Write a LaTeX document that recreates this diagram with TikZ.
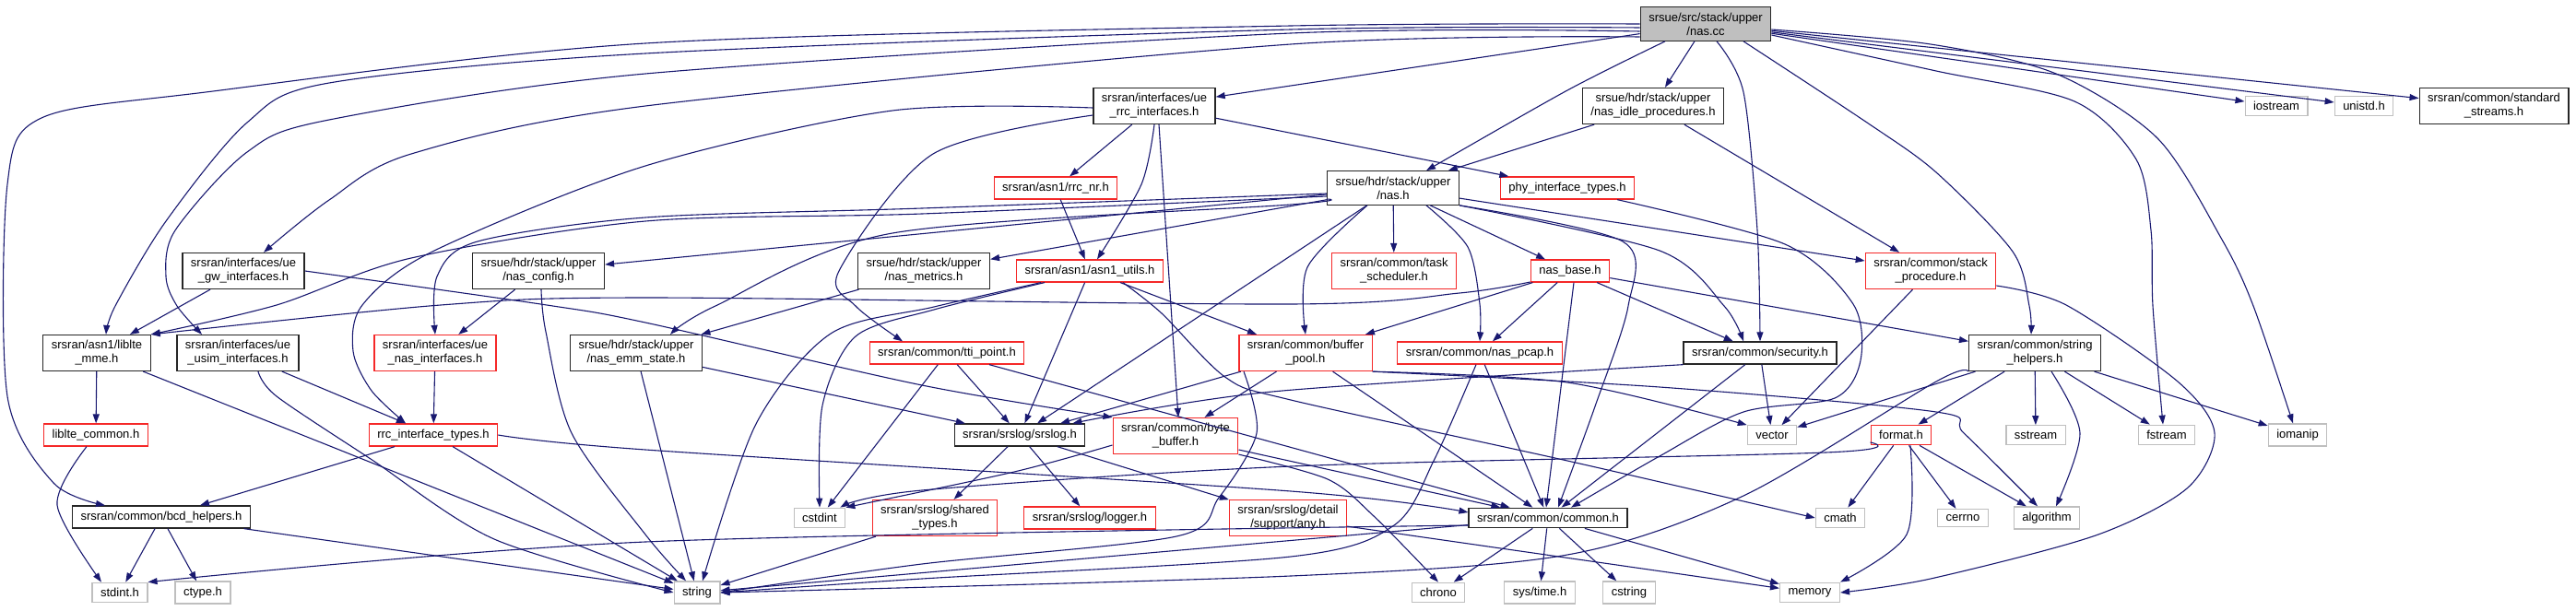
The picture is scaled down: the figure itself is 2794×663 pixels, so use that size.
\documentclass[tikz,border=0pt]{standalone}
\usepackage{fontspec}
\setmainfont{Liberation Sans}
\usepackage{tikz}
\usetikzlibrary{arrows.meta}
\definecolor{depblue}{RGB}{25,25,112}
\definecolor{truncred}{RGB}{245,40,40}
\definecolor{sysgray}{RGB}{191,191,191}

\begin{document}
\begin{tikzpicture}[x=1pt,y=-1pt,
  box/.style={draw,line width=1.2pt,align=center,inner xsep=9pt,inner ysep=6pt,font=\fontsize{13}{15}\selectfont},
  hdr/.style={box,draw=black!85},
  trunc/.style={box,draw=truncred},
  sys/.style={box,draw=sysgray},
  rootbox/.style={hdr,fill=sysgray},
  dep/.style={draw=depblue,line width=1.1pt,-{Triangle[length=10pt,width=7pt]}}]
\useasboundingbox (0,0) rectangle (2794,663);

\node[rootbox] (root) at (1850,26) {srsue/src/stack/upper\\/nas.cc};
\node[hdr] (uerrc) at (1252,115) {srsran/interfaces/ue\\\_rrc\_interfaces.h};
\node[hdr] (nasidle) at (1793,115) {srsue/hdr/stack/upper\\/nas\_idle\_procedures.h};
\node[sys] (iostream) at (2469,115) {iostream};
\node[sys] (unistd) at (2564,115) {unistd.h};
\node[hdr] (stdstreams) at (2705,115) {srsran/common/standard\\\_streams.h};
\node[trunc] (rrcnr) at (1145,204) {srsran/asn1/rrc\_nr.h};
\node[hdr] (nash) at (1511,204) {srsue/hdr/stack/upper\\/nas.h};
\node[trunc] (phytypes) at (1700,204) {phy\_interface\_types.h};
\node[hdr] (uegw) at (264,294) {srsran/interfaces/ue\\\_gw\_interfaces.h};
\node[hdr] (nasconfig) at (584,294) {srsue/hdr/stack/upper\\/nas\_config.h};
\node[hdr] (nasmetrics) at (1002,294) {srsue/hdr/stack/upper\\/nas\_metrics.h};
\node[trunc] (asnutils) at (1182,294) {srsran/asn1/asn1\_utils.h};
\node[trunc] (tasksched) at (1512,294) {srsran/common/task\\\_scheduler.h};
\node[trunc] (nasbase) at (1703,294) {nas\_base.h};
\node[trunc] (stackproc) at (2094,294) {srsran/common/stack\\\_procedure.h};
\node[hdr] (lteme) at (105,383) {srsran/asn1/liblte\\\_mme.h};
\node[hdr] (ueusim) at (258,383) {srsran/interfaces/ue\\\_usim\_interfaces.h};
\node[trunc] (uenas) at (472,383) {srsran/interfaces/ue\\\_nas\_interfaces.h};
\node[hdr] (emmstate) at (690,383) {srsue/hdr/stack/upper\\/nas\_emm\_state.h};
\node[trunc] (ttipoint) at (1027,383) {srsran/common/tti\_point.h};
\node[trunc] (bufpool) at (1416,383) {srsran/common/buffer\\\_pool.h};
\node[trunc] (naspcap) at (1605,383) {srsran/common/nas\_pcap.h};
\node[hdr] (security) at (1909,383) {srsran/common/security.h};
\node[hdr] (strhelp) at (2207,383) {srsran/common/string\\\_helpers.h};
\node[trunc] (ltecommon) at (104,472) {liblte\_common.h};
\node[trunc] (rrctypes) at (470,472) {rrc\_interface\_types.h};
\node[hdr] (srslog) at (1106,472) {srsran/srslog/srslog.h};
\node[trunc] (bytebuf) at (1275,473) {srsran/common/byte\\\_buffer.h};
\node[sys] (vector) at (1922,472) {vector};
\node[trunc] (format) at (2062,472) {format.h};
\node[sys] (sstream) at (2208,472) {sstream};
\node[sys] (fstream) at (2350,472) {fstream};
\node[sys] (iomanip) at (2492,472) {iomanip};
\node[hdr] (bcd) at (175,561) {srsran/common/bcd\_helpers.h};
\node[sys] (cstdint) at (889,562) {cstdint};
\node[trunc] (shtypes) at (1014,562) {srsran/srslog/shared\\\_types.h};
\node[trunc] (logger) at (1182,562) {srsran/srslog/logger.h};
\node[trunc] (anyh) at (1397,562) {srsran/srslog/detail\\/support/any.h};
\node[hdr] (common) at (1679,562) {srsran/common/common.h};
\node[sys] (cmath) at (1996,562) {cmath};
\node[sys] (cerrno) at (2129,562) {cerrno};
\node[sys] (algorithm) at (2220,562) {algorithm};
\node[sys] (stdint) at (130,643) {stdint.h};
\node[sys] (ctype) at (220,643) {ctype.h};
\node[sys] (string) at (756,643) {string};
\node[sys] (chrono) at (1560,643) {chrono};
\node[sys] (systime) at (1670,643) {sys/time.h};
\node[sys] (cstring) at (1767,643) {cstring};
\node[sys] (memory) at (1963,643) {memory};

\foreach \src/\dst in {root/uerrc, root/nasidle, root/iostream, root/unistd, root/stdstreams,
  nasidle/nash, nasidle/stackproc, uerrc/rrcnr, uerrc/phytypes, rrcnr/asnutils,
  nash/nasconfig, nash/nasmetrics, nash/srslog, nash/tasksched, nash/nasbase, nash/stackproc,
  uegw/lteme, nasconfig/uenas, nasmetrics/emmstate, asnutils/srslog, asnutils/bufpool,
  nasbase/bufpool, nasbase/naspcap, nasbase/security, nasbase/strhelp, stackproc/vector,
  lteme/ltecommon, lteme/string, ueusim/rrctypes, uenas/rrctypes, emmstate/string, emmstate/srslog,
  ttipoint/srslog, ttipoint/cstdint, ttipoint/common, bufpool/srslog, bufpool/bytebuf, bufpool/common,
  naspcap/common, security/vector, security/common,
  strhelp/format, strhelp/sstream, strhelp/fstream, strhelp/iomanip, strhelp/vector,
  rrctypes/bcd, rrctypes/string, srslog/shtypes, srslog/logger, srslog/anyh, bytebuf/common,
  format/cmath, format/cerrno, format/algorithm, bcd/stdint, bcd/ctype, bcd/string,
  shtypes/string, anyh/memory, common/string, common/chrono, common/systime,
  common/cstring, common/memory}
  \draw[dep] (\src) -- (\dst);

\draw[dep] ([xshift=5pt]uerrc.south) -- ([xshift=3pt]bytebuf.north);
\draw[dep] ([xshift=4pt]nasbase.south) -- ([xshift=-2pt]common.north);

\draw[dep] plot[smooth] coordinates {(root.west) (1400,28) (700,47) (223,100) (45,128) (8,200) (8,430) (58,524) ([xshift=-61pt]bcd.north)};
\draw[dep] plot[smooth] coordinates {([yshift=-4pt]root.west) (1400,32) (700,58) (357,90) (268,133) (180,240) (125,332) ([xshift=10pt]lteme.north)};
\draw[dep] plot[smooth] coordinates {([yshift=-8pt]root.west) (1400,36) (700,80) (357,130) (268,165) (190,250) (180,300) (192,332) ([xshift=-39pt]ueusim.north)};
\draw[dep] plot[smooth] coordinates {([yshift=-14pt]root.west) (1400,48) (700,115) (446,167) (357,217) ([xshift=22pt]uegw.north)};
\draw[dep] plot[smooth] coordinates {([xshift=-44pt]root.south) (1700,98) ([xshift=36pt]nash.north)};
\draw[dep] plot[smooth] coordinates {([xshift=12pt]root.south) (1891,100) (1906,250) (security.north)};
\draw[dep] plot[smooth] coordinates {([xshift=41pt]root.south) (2025,133) (2100,187) (2183,273) (2201,332) ([xshift=-4pt]strhelp.north)};
\draw[dep] plot[smooth] coordinates {([yshift=-12pt]root.east) (2100,77) (2250,110) (2317,173) (2333,250) (2335,332) ([xshift=-4pt]fstream.north)};
\draw[dep] plot[smooth] coordinates {([yshift=-6pt]root.east) (2094,48) (2230,80) (2340,150) (2410,260) (2444,332) ([xshift=-5pt]iomanip.north)};

\draw[dep] plot[smooth] coordinates {([yshift=-2pt]uerrc.west) (968,120) (700,180) (469,273) (393,331) (383,381) (403,424) ([xshift=-30pt]rrctypes.north)};
\draw[dep] plot[smooth] coordinates {([yshift=-10pt]uerrc.west) (1012,167) (910,294) (928,332) ([xshift=-48pt]ttipoint.north)};
\draw[dep] plot[smooth] coordinates {(uerrc.south) (1238,200) ([xshift=8pt]asnutils.north)};

\draw[dep] plot[smooth] coordinates {([yshift=-9pt]nash.west) (1000,232) (700,240) (446,280) (300,331) (lteme.north east)};
\draw[dep] plot[smooth] coordinates {([yshift=-6pt]nash.west) (1000,226) (700,236) (518,262) (474,300) (uenas.north)};
\draw[dep] plot[smooth] coordinates {([yshift=-12pt]nash.west) (1400,222) (968,253) (776,332) ([xshift=37pt]emmstate.north)};
\draw[dep] plot[smooth] coordinates {([xshift=36pt]nash.south) (1592,268) (1605,330) (naspcap.north)};
\draw[dep] plot[smooth] coordinates {([xshift=-28pt]nash.south) (1418,290) (bufpool.north)};
\draw[dep] plot[smooth] coordinates {(nash.south east) (1760,262) (1766,332) (1730,441) ([xshift=11pt]common.north)};
\draw[dep] plot[smooth] coordinates {(nash.south east) (1800,272) (1870,332) ([xshift=-18pt]security.north)};

\draw[dep] plot[smooth] coordinates {([yshift=-12pt]nasbase.west) (1583,318) (1400,330) (700,323) (478,331) (lteme.north east)};
\draw[dep] plot[smooth] coordinates {([xshift=-19pt]phytypes.south east) (1936,265) (2010,330) (2018,391) (1990,432) (1891,447) (1800,495) ([xshift=25pt]common.north)};

\draw[dep] plot[smooth] coordinates {([xshift=-53pt]asnutils.south) (1013,333) (901,362) (820,460) ([xshift=6pt]string.north)};
\draw[dep] plot[smooth] coordinates {([xshift=-49pt]asnutils.south) (1013,336) (928,365) (892,440) (cstdint.north)};
\draw[dep] plot[smooth] coordinates {([xshift=36pt]asnutils.south) (1260,340) (1330,410) (1400,434) (1700,500) (cmath.west)};

\draw[dep] plot[smooth] coordinates {(uegw.east) (593,331) (700,350) (1000,418) (bytebuf.north west)};
\draw[dep] plot[smooth] coordinates {([xshift=22pt]ueusim.south) (300,430) (402,498) (536,585) (string.west)};
\draw[dep] plot[smooth] coordinates {([xshift=3pt]nasconfig.south) (592,360) (620,470) (700,580) ([xshift=-12pt]string.north)};
\draw[dep] plot[smooth] coordinates {([xshift=-10pt]ltecommon.south) (62,548) ([xshift=-20pt]stdint.north)};
\draw[dep] plot[smooth] coordinates {(rrctypes.east) (700,488) (1400,533) ([yshift=6pt]common.west)};
\draw[dep] plot[smooth] coordinates {([yshift=-8pt]common.west) (700,588) (stdint.north east)};

\draw[dep] plot[smooth] coordinates {([yshift=-10pt]bytebuf.west) (1100,512) (cstdint.north east)};
\draw[dep] plot[smooth] coordinates {(bytebuf.south east) (1440,520) (1490,560) (chrono.north)};
\draw[dep] plot[smooth] coordinates {([xshift=-67pt]bufpool.south) (1363,470) (1322,540) (1276,582) (1000,612) (string.east)};
\draw[dep] plot[smooth] coordinates {(bufpool.south east) (1700,415) (vector.north west)};
\draw[dep] plot[smooth] coordinates {(bufpool.south east) (1800,420) (2100,447) (2130,470) ([xshift=-10pt]algorithm.north)};
\draw[dep] plot[smooth] coordinates {([xshift=-4pt]naspcap.south) (1556,498) (1512,570) (1400,604) (1000,628) (string.east)};
\draw[dep] plot[smooth] coordinates {(security.south west) (1380,425) ([xshift=-14pt]srslog.north east)};

\draw[dep] plot[smooth] coordinates {([yshift=-16pt]stackproc.east) (2241,331) (2362,414) (2402,470) (2372,530) (2273,581) (2094,628) (memory.east)};
\draw[dep] plot[smooth] coordinates {(strhelp.south west) (2100,414) (1891,538) (1700,602) (1400,625) (string.east)};
\draw[dep] plot[smooth] coordinates {([xshift=18pt]strhelp.south) (2256,470) ([xshift=10pt]algorithm.north)};
\draw[dep] plot[smooth] coordinates {([xshift=10pt]format.south) (2068,580) (memory.north east)};
\draw[dep] plot[smooth] coordinates {([yshift=-8pt]format.west) (1980,491) (1400,506) (1000,532) ([xshift=-6pt]cstdint.north east)};
\end{tikzpicture}
\end{document}
